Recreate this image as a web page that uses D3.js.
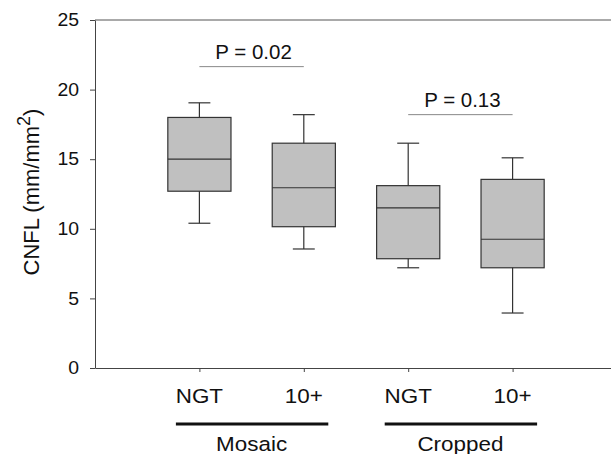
<!DOCTYPE html>
<meta charset="utf-8">
<style>
    body {
        margin: 0;
        background: #fff;
    }

    svg text {
        font-family: "Liberation Sans", Arial, sans-serif;
        fill: #111;
    }

    .box {
        fill: #c0c0c0;
        stroke: #333;
        stroke-width: 1.2px;
    }

    .whisker, .median {
        stroke: #333;
        stroke-width: 1.2px;
    }

    .axis path, .axis line {
        stroke: #444;
    }
</style>

<body>
    <script src="https://cdn.jsdelivr.net/npm/d3@7"></script>

    <script>

        // values
        var conditions = ["NGT", "10+", "NGT", "10+"];
        var groups = ["Mosaic", "Cropped"];
        var whiskerLow = [10.4, 8.55, 7.2, 3.95];
        var q1 = [12.7, 10.15, 7.85, 7.2];
        var median = [15.0, 12.95, 11.5, 9.25];
        var q3 = [18.0, 16.15, 13.1, 13.55];
        var whiskerHigh = [19.05, 18.2, 16.15, 15.1];

        var pLabels = ["P = 0.02", "P = 0.13"];
        var pLevel = [21.65, 18.2];
        var yTicks = [0, 5, 10, 15, 20, 25];

        var width = 611,
            height = 454;

        var margin = { left: 95, top: 20, bottom: 86 };

        var x = d3.scaleLinear()
            .domain([0, 5])
            .range([margin.left, 617]);

        var y = d3.scaleLinear()
            .domain([0, 25])
            .range([height - margin.bottom, margin.top]);

        var boxW = 0.605, capW = 0.21;

        // the picture is a bit wider than tall, so text is stretched sideways
        function stretch(sx) {
            return function () {
                var t = d3.select(this);
                var ax = +t.attr("x") || 0, ay = +t.attr("y") || 0;
                t.attr("transform", "translate(" + ax + "," + ay + ") scale(" + sx + ",1) translate(" + (-ax) + "," + (-ay) + ")");
            };
        }

        var svg = d3.select("body").append("svg")
            .attr("width", width)
            .attr("height", height);

        // top frame line
        svg.append("line")
            .attr("x1", x(0)).attr("x2", width)
            .attr("y1", y(25)).attr("y2", y(25))
            .attr("stroke", "#555");

        var yAxis = svg.append("g")
            .attr("class", "axis")
            .attr("transform", "translate(" + x(0) + ",0)")
            .call(d3.axisLeft(y).tickValues(yTicks).tickSize(5).tickPadding(11).tickSizeOuter(0));

        yAxis.selectAll("text")
            .style("font-size", "18px")
            .each(stretch(1.08));

        var xAxis = svg.append("g")
            .attr("class", "axis")
            .attr("transform", "translate(0," + y(0) + ")")
            .call(d3.axisBottom(x).tickValues([1, 2, 3, 4]).tickSize(4).tickFormat("").tickSizeOuter(0));

        // condition labels under the ticks
        svg.selectAll("text.cond")
            .data(conditions)
            .enter().append("text")
            .attr("class", "cond")
            .attr("x", function (d, i) { return x(i + 1); })
            .attr("y", 403)
            .attr("text-anchor", "middle")
            .style("font-size", "19.5px")
            .text(function (d) { return d; })
            .each(stretch(1.15));

        // group underline + name
        var grp = svg.selectAll("g.grp")
            .data(groups)
            .enter().append("g")
            .attr("class", "grp");

        grp.append("line")
            .attr("x1", function (d, i) { return x(2 * i + 1) - 23.5; })
            .attr("x2", function (d, i) { return x(2 * i + 2) + 24.5; })
            .attr("y1", 424).attr("y2", 424)
            .attr("stroke", "#111")
            .attr("stroke-width", 3);

        grp.append("text")
            .attr("x", function (d, i) { return x(2 * i + 1.5); })
            .attr("y", 451)
            .attr("text-anchor", "middle")
            .style("font-size", "19.5px")
            .text(function (d) { return d; })
            .each(stretch(1.15));

        // boxes
        var b = svg.selectAll("g.bp")
            .data(conditions)
            .enter().append("g")
            .attr("class", "bp");

        b.append("line")
            .attr("class", "whisker")
            .attr("x1", function (d, i) { return x(i + 1); })
            .attr("x2", function (d, i) { return x(i + 1); })
            .attr("y1", function (d, i) { return y(whiskerHigh[i]); })
            .attr("y2", function (d, i) { return y(whiskerLow[i]); });

        b.append("line")
            .attr("class", "whisker")
            .attr("x1", function (d, i) { return x(i + 1 - capW / 2); })
            .attr("x2", function (d, i) { return x(i + 1 + capW / 2); })
            .attr("y1", function (d, i) { return y(whiskerHigh[i]); })
            .attr("y2", function (d, i) { return y(whiskerHigh[i]); });

        b.append("line")
            .attr("class", "whisker")
            .attr("x1", function (d, i) { return x(i + 1 - capW / 2); })
            .attr("x2", function (d, i) { return x(i + 1 + capW / 2); })
            .attr("y1", function (d, i) { return y(whiskerLow[i]); })
            .attr("y2", function (d, i) { return y(whiskerLow[i]); });

        b.append("rect")
            .attr("class", "box")
            .attr("x", function (d, i) { return x(i + 1 - boxW / 2); })
            .attr("width", x(boxW) - x(0))
            .attr("y", function (d, i) { return y(q3[i]); })
            .attr("height", function (d, i) { return y(q1[i]) - y(q3[i]); });

        b.append("line")
            .attr("class", "median")
            .attr("x1", function (d, i) { return x(i + 1 - boxW / 2); })
            .attr("x2", function (d, i) { return x(i + 1 + boxW / 2); })
            .attr("y1", function (d, i) { return y(median[i]); })
            .attr("y2", function (d, i) { return y(median[i]); });

        // p-value brackets
        var p = svg.selectAll("g.pv")
            .data(pLabels)
            .enter().append("g")
            .attr("class", "pv");

        p.append("line")
            .attr("x1", function (d, i) { return x(2 * i + 1); })
            .attr("x2", function (d, i) { return x(2 * i + 2); })
            .attr("y1", function (d, i) { return y(pLevel[i]); })
            .attr("y2", function (d, i) { return y(pLevel[i]); })
            .attr("stroke", "#888");

        p.append("text")
            .attr("x", function (d, i) { return x(2 * i + 1.5) + 2; })
            .attr("y", function (d, i) { return y(pLevel[i]) - 8; })
            .attr("text-anchor", "middle")
            .style("font-size", "19.5px")
            .text(function (d) { return d; })
            .each(stretch(1.05));

        // y label
        var yl = svg.append("text")
            .attr("transform", "translate(39,192) rotate(-90)")
            .attr("text-anchor", "middle")
            .style("font-size", "22px");
        yl.append("tspan").text("CNFL (mm/mm");
        yl.append("tspan").attr("dy", -9).style("font-size", "18px").text("2");
        yl.append("tspan").attr("dy", 9).text(")");

    </script>

</body>

</html>
